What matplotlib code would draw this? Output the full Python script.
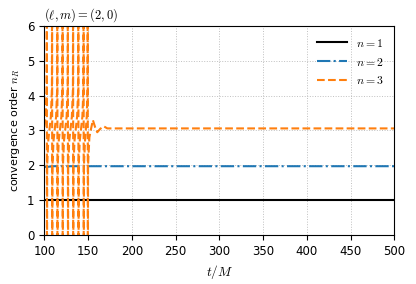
import numpy as np
import matplotlib.pyplot as plt

plt.rcParams['mathtext.fontset'] = 'cm'

# n = 1 : flat
t1 = [100, 500]
n1 = [1.0, 1.0]

# n = 2 : small dip at start, then flat
t2 = [100, 102, 105, 110, 150, 500]
n2 = [1.97, 1.95, 1.96, 1.975, 1.975, 1.975]

# n = 3 : poles between 100 and 150, then settles at ~3.06
t3 = [100.0, 101.5, 102.7, 102.95, 103.0, 103.3, 104.5, 106.0,
      107.5, 108.7, 108.95, 109.0, 109.3, 110.5, 112.0,
      113.5, 114.7, 114.95, 115.0, 115.3, 116.5, 118.0,
      119.5, 120.7, 120.95, 121.0, 121.3, 122.5, 124.0,
      125.5, 126.7, 126.95, 127.0, 127.3, 128.5, 130.0,
      131.5, 132.7, 132.95, 133.0, 133.3, 134.5, 136.0,
      137.5, 138.7, 138.95, 139.0, 139.3, 140.5, 142.0,
      143.5, 144.7, 144.95, 145.0, 145.3, 146.5, 147.5,
      148.5, 149.4, 149.65, 149.7, 150.0, 151.5, 153.0,
      155.5, 158.0, 160.5, 164.0, 168.0, 172.0, 180.0, 500.0]
n3 = [3.1, 3.4, 4.2, 9.0, -3.0, 2.0, 2.7, 3.05,
      3.4, 4.2, 9.0, -3.0, 2.0, 2.7, 3.05,
      3.4, 4.2, 9.0, -3.0, 2.0, 2.7, 3.05,
      3.4, 4.2, 9.0, -3.0, 2.0, 2.7, 3.05,
      3.4, 4.2, 9.0, -3.0, 2.0, 2.7, 3.05,
      3.4, 4.2, 9.0, -3.0, 2.0, 2.7, 3.05,
      3.4, 4.2, 9.0, -3.0, 2.0, 2.7, 3.05,
      3.4, 4.2, 9.0, -3.0, 2.0, 2.7, 3.05,
      3.4, 4.2, 9.0, -3.0, 2.0, 2.8, 3.0,
      3.3, 3.1, 2.95, 3.05, 3.12, 3.06, 3.06, 3.06]

labels = [r'$n=1$', r'$n=2$', r'$n=3$']

fig = plt.figure(figsize=(4.16, 2.84), dpi=100)
ax = fig.add_axes([0.1065, 0.1725, 0.8415, 0.736])

ax.plot(t1, n1, '-', color='black', lw=1.5, label=labels[0])
ax.plot(t2, n2, '-.', color='tab:blue', lw=1.5, label=labels[1])
ax.plot(t3, n3, '--', color='tab:orange', lw=1.5, label=labels[2])

ax.set_xlim(100, 500)
ax.set_ylim(0, 6)
ax.set_xticks(np.arange(100, 501, 50))
ax.set_yticks(np.arange(0, 7, 1))
ax.tick_params(labelsize=8.5)
ax.grid(True, color='#b0b0b0', ls=':', lw=0.7, alpha=0.8)

ax.set_xlabel(r'$t/M$', fontsize=9.5)
ax.set_ylabel(r'convergence order $n_R$', fontsize=8)
ax.set_title(r'$(\ell,m)=(2,0)$', loc='left', fontsize=9, pad=5)

ax.legend(loc='upper right', frameon=False, fontsize=8.5, handlelength=2.5)

fig.savefig('out.png', dpi=100)
